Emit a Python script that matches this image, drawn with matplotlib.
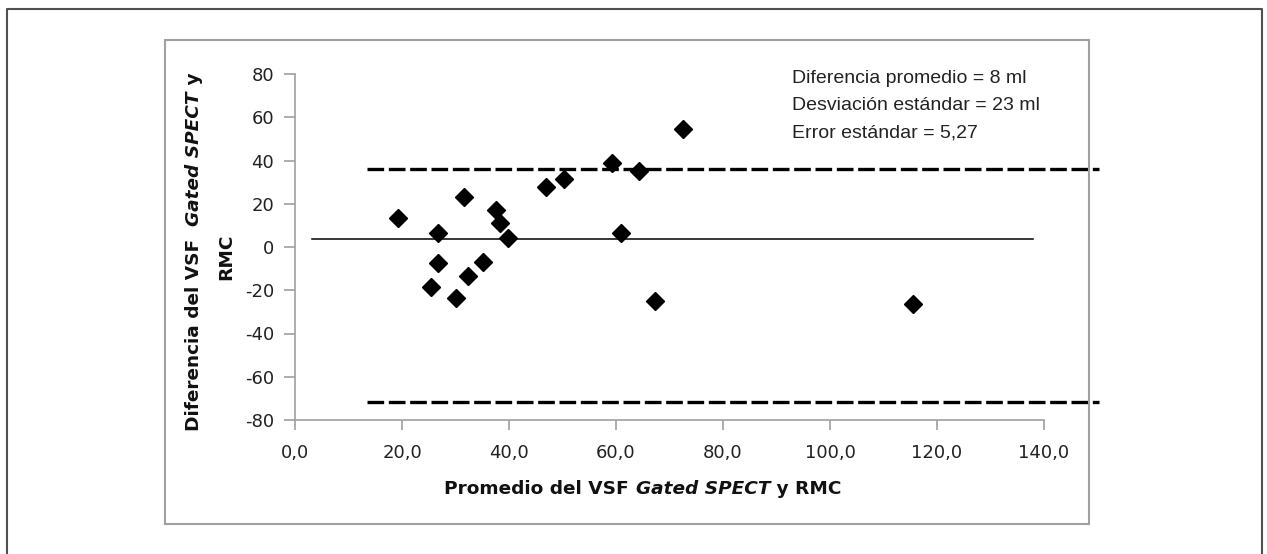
import numpy as np
import matplotlib
matplotlib.use("Agg")
import matplotlib.pyplot as plt
from matplotlib.lines import Line2D
from matplotlib.patches import Rectangle

# datos
promedio = [19.2, 25.4, 26.8, 26.8, 30.1, 31.6, 32.4, 35.2, 37.6, 38.3,
            39.9, 46.9, 50.3, 59.3, 60.9, 64.3, 67.3, 72.6, 115.5]
diferencia = [13.5, -18.4, 6.3, -7.5, -23.7, 23.3, -13.3, -6.8, 17.1, 11.0,
              4.0, 27.9, 31.3, 39.0, 6.3, 35.3, -25.0, 54.6, -26.5]

media_y, media_x = 3.6, [3.2, 137.9]
lim_sup, lim_inf, lim_x = 36.0, -71.5, [13.5, 150.3]

xticks = [0, 20, 40, 60, 80, 100, 120, 140]
xtick_labels = ["0,0", "20,0", "40,0", "60,0", "80,0", "100,0", "120,0", "140,0"]
yticks = [-80, -60, -40, -20, 0, 20, 40, 60, 80]
ytick_labels = ["-80", "-60", "-40", "-20", "0", "20", "40", "60", "80"]

stats = ["Diferencia promedio = 8 ml",
         "Desviación estándar = 23 ml",
         "Error estándar = 5,27"]

W, H = 1267, 554
fig = plt.figure(figsize=(W / 100, H / 100), dpi=100)


def px(x, y):
    return x / W, 1 - y / H


# marcos
fig.add_artist(Line2D([7 / W, 7 / W, 1262 / W, 1262 / W], [0, 1 - 9 / H, 1 - 9 / H, 0],
                      color="#505050", lw=1.5))
fig.add_artist(Rectangle(px(165, 524), 924 / W, 484 / H, transform=fig.transFigure,
                         fill=False, ec="#a0a0a0", lw=1.5))

ax = fig.add_axes([295 / W, 1 - 420 / H, 749 / W, 346 / H])
ax.set_xlim(0, 140)
ax.set_ylim(-80, 80)
for s in ["top", "right"]:
    ax.spines[s].set_visible(False)
for s in ["left", "bottom"]:
    ax.spines[s].set_color("#a0a0a0")
    ax.spines[s].set_linewidth(1.2)

ax.set_xticks(xticks, xtick_labels)
ax.set_yticks(yticks, ytick_labels)
ax.tick_params(axis="x", length=7, width=1.2, color="#a0a0a0", pad=10,
               labelsize=13, labelcolor="#222222")
ax.tick_params(axis="y", length=8, width=1.2, color="#a0a0a0", pad=7,
               labelsize=13, labelcolor="#222222")

ax.plot(media_x, [media_y, media_y], color="black", lw=1.1, clip_on=False)
for yv in [lim_sup, lim_inf]:
    ax.plot(lim_x, [yv, yv], color="black", lw=2.4, dashes=(5, 1.4),
            clip_on=False)
ax.plot(promedio, diferencia, "D", color="black", ms=9.5, clip_on=False, zorder=5)

for i, s in enumerate(stats):
    fig.text(*px(792, 83 + 27 * i), s, fontsize=14, family="Liberation Sans",
             color="#222222", va="baseline", ha="left")

renderer = fig.canvas.get_renderer()


def texto_mixto(piezas, cx, cy, rot=0, size=13.3):
    arts = []
    total = 0
    for s, st in piezas:
        t = fig.text(0, 0, s, fontsize=size, fontweight="bold", fontstyle=st,
                     rotation=rot, rotation_mode="anchor", ha="left",
                     va="baseline", color="#111111")
        bb = t.get_window_extent(renderer)
        n = bb.height if rot == 90 else bb.width
        arts.append((t, n))
        total += n
    pos = -total / 2
    for t, n in arts:
        if rot == 90:
            t.set_position(px(cx, cy - pos))
        else:
            t.set_position(px(cx + pos, cy))
        pos += n


texto_mixto([("Promedio del VSF ", "normal"), ("Gated SPECT", "italic"),
             (" y RMC", "normal")], 643, 494)
texto_mixto([("Diferencia del VSF  ", "normal"), ("Gated SPECT", "italic"),
             (" y", "normal")], 199, 252, rot=90)
texto_mixto([("RMC", "normal")], 231, 257, rot=90)

fig.savefig("out.png", dpi=100)
